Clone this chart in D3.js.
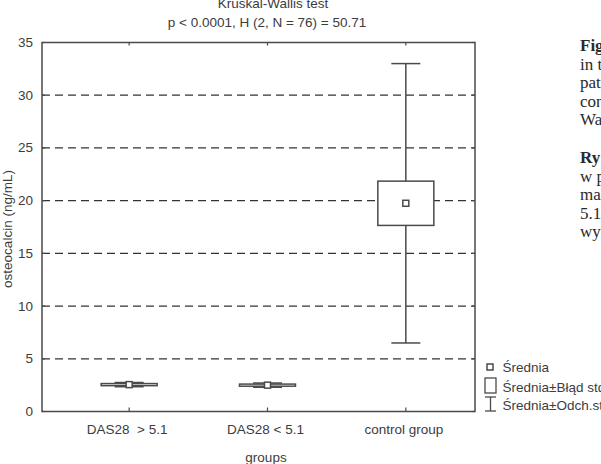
<!DOCTYPE html>
<html>
<head>
<meta charset="utf-8">
<script src="https://cdn.jsdelivr.net/npm/d3@7"></script>
<style>
  body { margin: 0; background: #fff; overflow: hidden; }
  svg { display: block; }
  text { font-family: "Liberation Sans", Arial, sans-serif; fill: #3c3c3c; }
  .side { font-family: "Liberation Serif", "Times New Roman", serif; fill: #2a2a2a; }
</style>
</head>
<body>
<svg id="chart" width="601" height="464"></svg>
<script>
// group means with standard error and standard deviation
const groups = ["DAS28  > 5.1", "DAS28 < 5.1", "control group"];
const means = [2.55, 2.5, 19.75];
const stdErrs = [0.1, 0.1, 2.1];
const stdDevs = [0.2, 0.2, 13.25];
const yTicks = [0, 5, 10, 15, 20, 25, 30, 35];
const legendLabels = ["Średnia", "Średnia±Błąd std", "Średnia±Odch.std"];

// text of the page the figure was cut from (clipped at the right edge)
const sideTop = ["Fig", "in t", "pat", "con", "Wa"];
const sideBottom = ["Ry", "w p", "ma", "5.1", "wy"];

const svg = d3.select("#chart");
const plotL = 42, plotR = 475, plotT = 42.5, plotB = 411.5;
const lineColor = "#4a4a4a";

const x = d3.scaleLinear().domain([-0.63, 2.5]).range([plotL, plotR]);
const y = d3.scaleLinear().domain([0, 35]).range([plotB, plotT]);

// titles
svg.append("text").attr("x", 273).attr("y", 8)
  .attr("text-anchor", "middle").style("font-size", "13.5px")
  .text("Kruskal-Wallis test");
svg.append("text").attr("x", 267).attr("y", 27)
  .attr("text-anchor", "middle").style("font-size", "13.5px")
  .text("p < 0.0001, H (2, N = 76) = 50.71");

// dashed grid
svg.append("g").selectAll("line")
  .data(yTicks.filter((d) => d > 0 && d < 35))
  .enter().append("line")
  .attr("x1", plotL).attr("x2", plotR)
  .attr("y1", (d) => y(d)).attr("y2", (d) => y(d))
  .style("stroke", "#333").style("stroke-width", 1.2)
  .style("stroke-dasharray", "8,5");

// y tick labels and inner ticks on both sides
const yAxis = svg.append("g");
yAxis.selectAll("text").data(yTicks).enter().append("text")
  .attr("x", 33).attr("y", (d) => y(d) + 4.5)
  .attr("text-anchor", "end").style("font-size", "13.5px")
  .text((d) => d);
yAxis.selectAll("line.r").data(yTicks).enter().append("line")
  .attr("class", "r")
  .attr("x1", plotR - 3).attr("x2", plotR)
  .attr("y1", (d) => y(d)).attr("y2", (d) => y(d))
  .style("stroke", lineColor).style("stroke-width", 1.2);
yAxis.selectAll("line.l").data(yTicks).enter().append("line")
  .attr("class", "l")
  .attr("x1", plotL).attr("x2", plotL + 3)
  .attr("y1", (d) => y(d)).attr("y2", (d) => y(d))
  .style("stroke", lineColor).style("stroke-width", 1.2);

svg.append("text")
  .attr("transform", `translate(12, ${(plotT + plotB) / 2 + 2}) rotate(-90)`)
  .attr("text-anchor", "middle").style("font-size", "13.5px")
  .text("osteocalcin (ng/mL)");

// x ticks (top and bottom, pointing inward) and labels
const xAxis = svg.append("g");
groups.forEach((g, i) => {
  xAxis.append("line")
    .attr("x1", x(i)).attr("x2", x(i)).attr("y1", plotB).attr("y2", plotB - 4)
    .style("stroke", lineColor).style("stroke-width", 1.2);
  xAxis.append("line")
    .attr("x1", x(i)).attr("x2", x(i)).attr("y1", plotT).attr("y2", plotT + 3)
    .style("stroke", lineColor).style("stroke-width", 1.2);
});
xAxis.selectAll("text").data(groups).enter().append("text")
  .attr("x", (d, i) => x(i) - 2).attr("y", 434)
  .attr("text-anchor", "middle").style("font-size", "13.5px")
  .style("white-space", "pre")
  .text((d) => d);
svg.append("text").attr("x", 266).attr("y", 461.5)
  .attr("text-anchor", "middle").style("font-size", "13.5px")
  .text("groups");

// box plots: whiskers = mean±SD, box = mean±SE, small square = mean
const boxW = 56, capW = 29, meanS = 6;
const marks = svg.append("g").style("stroke", lineColor).style("fill", "none");
groups.forEach((g, i) => {
  const cx = x(i);
  const m = means[i], se = stdErrs[i], sd = stdDevs[i];
  marks.append("line")
    .attr("x1", cx).attr("x2", cx).attr("y1", y(m + sd)).attr("y2", y(m - sd))
    .style("stroke-width", 1.5);
  [m + sd, m - sd].forEach((v) => {
    marks.append("line")
      .attr("x1", cx - capW / 2).attr("x2", cx + capW / 2)
      .attr("y1", y(v)).attr("y2", y(v))
      .style("stroke-width", 1.5);
  });
  marks.append("rect")
    .attr("x", cx - boxW / 2).attr("width", boxW)
    .attr("y", y(m + se)).attr("height", Math.max(y(m - se) - y(m + se), 0.5))
    .style("fill", "#fff").style("stroke-width", 1.5);
  marks.append("rect")
    .attr("x", cx - meanS / 2).attr("y", y(m) - meanS / 2)
    .attr("width", meanS).attr("height", meanS)
    .style("fill", "#fff").style("stroke-width", 1.5);
});

// frame
svg.append("rect")
  .attr("x", plotL).attr("y", plotT)
  .attr("width", plotR - plotL).attr("height", plotB - plotT)
  .style("fill", "none").style("stroke", lineColor).style("stroke-width", 1.5);

// legend
const lg = svg.append("g").style("stroke", lineColor).style("fill", "none");
lg.append("rect").attr("x", 487).attr("y", 364).attr("width", 6).attr("height", 6)
  .style("stroke-width", 1.5);
lg.append("rect").attr("x", 485).attr("y", 378).attr("width", 11).attr("height", 15)
  .style("stroke-width", 1.3);
lg.append("line").attr("x1", 490.5).attr("x2", 490.5).attr("y1", 397).attr("y2", 411)
  .style("stroke-width", 1.3);
lg.append("line").attr("x1", 485).attr("x2", 496).attr("y1", 397).attr("y2", 397)
  .style("stroke-width", 1.3);
lg.append("line").attr("x1", 485).attr("x2", 496).attr("y1", 411).attr("y2", 411)
  .style("stroke-width", 1.3);
svg.append("g").selectAll("text").data(legendLabels).enter().append("text")
  .attr("x", 502.5).attr("y", (d, i) => [371.5, 391.5, 410][i])
  .style("font-size", "13.5px")
  .text((d) => d);

// page text to the right of the figure
const side = svg.append("g");
sideTop.forEach((t, i) => {
  side.append("text").attr("class", "side")
    .attr("x", 580).attr("y", 51 + i * 18.5)
    .style("font-size", "17px").style("font-weight", i === 0 ? "bold" : "normal")
    .text(t);
});
sideBottom.forEach((t, i) => {
  side.append("text").attr("class", "side")
    .attr("x", 580).attr("y", 163 + i * 18.5)
    .style("font-size", "17px").style("font-weight", i === 0 ? "bold" : "normal")
    .text(t);
});
</script>
</body>
</html>
